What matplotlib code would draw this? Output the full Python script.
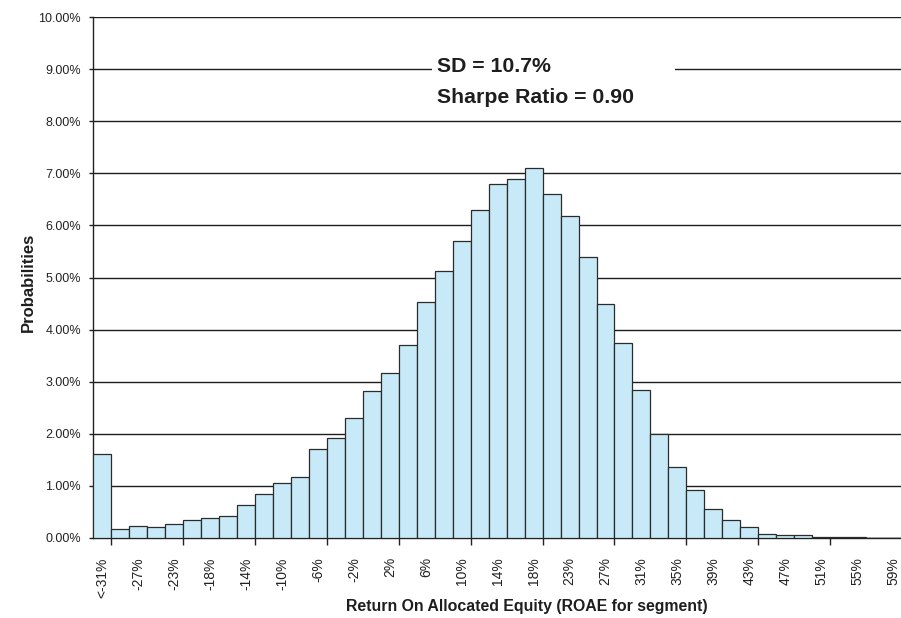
import matplotlib
matplotlib.use('Agg')
import matplotlib.pyplot as plt
from matplotlib.patches import Rectangle
from matplotlib.ticker import PercentFormatter

plt.rcParams['font.family'] = ['Liberation Sans', 'DejaVu Sans']

# Probabilities (%) for each of the 45 return buckets
probs = [1.60, 0.17, 0.22, 0.21, 0.26, 0.35, 0.37, 0.42, 0.63, 0.84,
         1.06, 1.17, 1.71, 1.91, 2.31, 2.81, 3.17, 3.70, 4.53, 5.12,
         5.71, 6.30, 6.80, 6.89, 7.10, 6.61, 6.18, 5.39, 4.49, 3.74,
         2.83, 2.00, 1.35, 0.91, 0.56, 0.35, 0.21, 0.08, 0.06, 0.045,
         0.013, 0.01, 0.005, 0.0, 0.0]

# labels shown on every second bucket
tick_labels = ['<-31%', '-27%', '-23%', '-18%', '-14%', '-10%', '-6%', '-2%',
               '2%', '6%', '10%', '14%', '18%', '23%', '27%', '31%', '35%',
               '39%', '43%', '47%', '51%', '55%', '59%']

sd_text = 'SD = 10.7%'
sharpe_text = 'Sharpe Ratio = 0.90'

fig = plt.figure(figsize=(9.01, 6.18), dpi=100)
ax = fig.add_axes([0.1036, 0.1299, 0.8975, 0.8421])

x = list(range(len(probs)))
ax.bar(x, probs, width=1.0, color='#C8E9F8', edgecolor='#2b2b2b',
       linewidth=0.9, zorder=3)

ax.set_xlim(-0.5, len(probs) - 0.5)
ax.set_ylim(0, 10)
ax.set_yticks(range(0, 11))
ax.yaxis.set_major_formatter(PercentFormatter(decimals=2))
ax.yaxis.grid(True, color='#1e1e1e', linewidth=1.0)
ax.set_axisbelow(True)

ax.set_xticks(x[::2])
ax.set_xticklabels(tick_labels, rotation=90, fontsize=10, color='#222222')
ax.tick_params(axis='x', which='major', length=0, pad=14)
ax.set_xticks([i + 0.5 for i in range(0, len(probs) - 1, 4)], minor=True)
ax.tick_params(axis='x', which='minor', length=5, width=1, color='#222222',
               direction='out')
ax.tick_params(axis='y', length=3, width=1, color='#222222', pad=6,
               labelsize=9, labelcolor='#222222')

for s in ['top', 'right']:
    ax.spines[s].set_visible(False)
ax.spines['left'].set_color('#222222')
ax.spines['bottom'].set_color('#222222')
ax.spines['left'].set_linewidth(1.0)
ax.spines['bottom'].set_linewidth(1.0)

# white text box covering the gridline
ax.add_patch(Rectangle((0.4188, 0.8223), 0.3005, 0.1245, transform=ax.transAxes,
                       facecolor='white', edgecolor='none', zorder=4))
ax.text(0.425, 0.8955, sd_text, transform=ax.transAxes, fontsize=15.3,
        fontweight='bold', color='#1e1e1e', va='baseline', zorder=5)
ax.text(0.425, 0.8353, sharpe_text, transform=ax.transAxes, fontsize=15.3,
        fontweight='bold', color='#1e1e1e', va='baseline', zorder=5)

fig.text(28 / 901, 1 - 282 / 618, 'Probabilities', rotation=90, fontsize=12,
         fontweight='bold', color='#1e1e1e', ha='center', va='center')
fig.text(527 / 901, 1 - 606 / 618, 'Return On Allocated Equity (ROAE for segment)',
         fontsize=11.4, fontweight='bold', color='#1e1e1e', ha='center', va='center')

fig.savefig('out.png', dpi=100)
